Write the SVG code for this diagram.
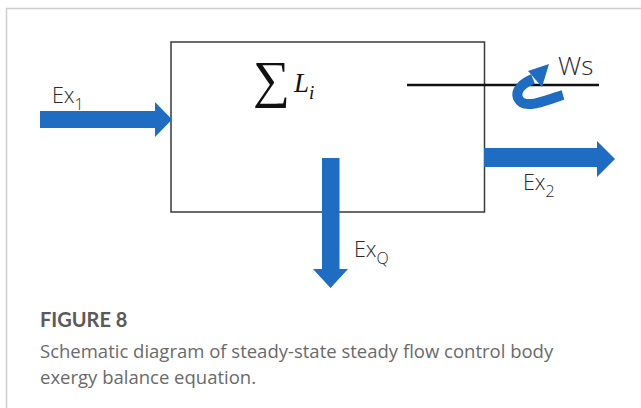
<svg xmlns="http://www.w3.org/2000/svg" width="641" height="408" viewBox="0 0 641 408">
<style>
.lbl{font-family:"Open Sans","Liberation Sans",sans-serif;font-size:21.5px;font-weight:300;fill:#2a2a2a}
.sub{font-size:16px}
.arrow{fill:#1f6dc2}
.cap{font-family:"Open Sans","Liberation Sans",sans-serif;fill:#6a6a6a;font-size:18.5px}
</style>
<rect width="641" height="408" fill="#fff"/>
<path d="M6.5 408 V8.5 H641" fill="none" stroke="#cfcfcf" stroke-width="1.5"/>
<g id="box">
<rect x="171" y="42" width="313.5" height="170" fill="none" stroke="#3a3a3a" stroke-width="1.5"/>
<text x="253" y="97" font-family="'Liberation Serif','DejaVu Serif',serif" font-size="52" fill="#111">∑</text>
<text x="294" y="92" font-family="'Liberation Serif',serif" font-style="italic" font-size="27" fill="#111">L<tspan dy="7" font-size="19">i</tspan></text>
</g>
<g id="shaft">
<line x1="407" y1="85" x2="599" y2="85" stroke="#111" stroke-width="2.5"/>
</g>
<g id="connectors">
<polygon class="arrow" points="40,111 155,111 155,102 172,119.5 155,137 155,128 40,128"/>
<polygon class="arrow" points="484,148 597,148 597,141 615,159 597,177 597,167 484,167"/>
<polygon class="arrow" points="322,158 339.5,158 339.5,269 348,269 330.5,288 313,269 322,269"/>
<path d="M563 95 C545 100,524 111,518 98 C515 90,523 83,533 79" fill="none" stroke="#1f6dc2" stroke-width="10"/>
<polygon class="arrow" points="549,64 528,71 542,87"/>
</g>
<g id="labels">
<text class="lbl" x="52" y="103">Ex<tspan class="sub" dy="7">1</tspan></text>
<text class="lbl" x="558" y="75" style="font-size:26px">Ws</text>
<text class="lbl" x="523" y="190">Ex<tspan class="sub" dy="7">2</tspan></text>
<text class="lbl" x="354" y="257">Ex<tspan class="sub" dy="7">Q</tspan></text>
</g>
<g id="caption">
<text x="40" y="327" font-family="Lato,'Liberation Sans',sans-serif" font-weight="bold" fill="#5a5a5a" font-size="20">FIGURE 8</text>
<text class="cap" x="40" y="358">Schematic diagram of steady-state steady flow control body</text>
<text class="cap" x="40" y="384">exergy balance equation.</text>
</g>
</svg>
